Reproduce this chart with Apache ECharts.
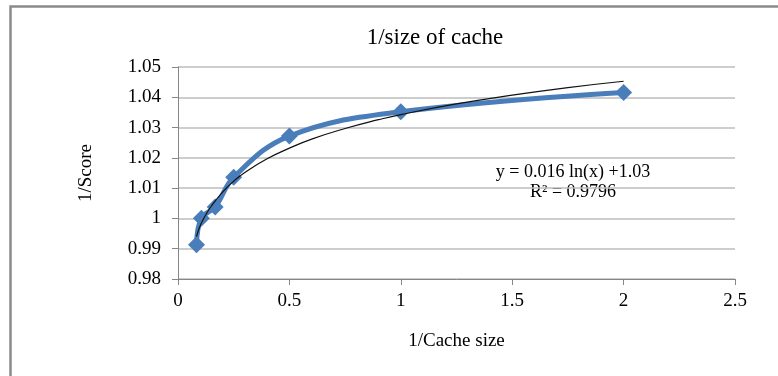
<!DOCTYPE html>
<html>
<head>
<meta charset="utf-8">
<script src="https://cdn.jsdelivr.net/npm/echarts@6/dist/echarts.min.js"></script>
<style>html,body{margin:0;padding:0;background:#fff;}#c{width:778px;height:376px;}</style>
</head>
<body>
<div id="c"></div>
<script>
const titleText = '1/size of cache';
const xName = '1/Cache size';
const yName = '1/Score';
const cacheX = [0.083, 0.105, 0.167, 0.25, 0.5, 1, 2];
const scoreY = [0.9913, 1.0001, 1.0038, 1.0136, 1.0272, 1.0352, 1.0416];
const trendX = [0.083, 0.1, 0.125, 0.15, 0.2, 0.25, 0.3, 0.4, 0.5, 0.6, 0.75, 0.9, 1, 1.25, 1.5, 1.75, 2];
const trendY = [0.9940, 0.9977, 1.0012, 1.0041, 1.0087, 1.0123, 1.0152, 1.0197, 1.0232, 1.0262, 1.0297, 1.0326, 1.0343, 1.0378, 1.0407, 1.0432, 1.0453];
const eqLine1 = 'y = 0.016 ln(x) +1.03';
const eqLine2 = 'R² = 0.9796';

const font = '"Liberation Serif", "DejaVu Serif", serif';
const chart = echarts.init(document.getElementById('c'));
chart.setOption({
  animation: false,
  backgroundColor: '#fff',
  title: {
    text: titleText, left: 430, top: 21, textAlign: 'center',
    textStyle: { fontFamily: font, fontSize: 23, fontWeight: 'normal', color: '#000' }
  },
  grid: { left: 178, right: 43, top: 67, bottom: 97 },
  xAxis: {
    type: 'value', min: 0, max: 2.5, interval: 0.5,
    name: xName, nameLocation: 'middle', nameGap: 53,
    nameTextStyle: { fontFamily: font, fontSize: 19, color: '#000' },
    axisLine: { lineStyle: { color: '#868686', width: 1 } },
    axisTick: { show: true, length: 6, lineStyle: { color: '#868686' } },
    axisLabel: { fontFamily: font, fontSize: 19, color: '#000', margin: 13, formatter: v => String(+v.toFixed(2)) },
    splitLine: { show: false }
  },
  yAxis: {
    type: 'value', min: 0.98, max: 1.05, interval: 0.01,
    name: yName, nameLocation: 'middle', nameGap: 82,
    nameTextStyle: { fontFamily: font, fontSize: 19, color: '#000' },
    axisLine: { show: true, lineStyle: { color: '#868686', width: 1 } },
    axisTick: { show: true, length: 6, lineStyle: { color: '#868686' } },
    axisLabel: { fontFamily: font, fontSize: 19, color: '#000', margin: 17, formatter: v => String(+v.toFixed(2)) },
    splitLine: { show: true, lineStyle: { color: '#bdbdbd', width: 1.5 } }
  },
  series: [
    {
      type: 'line', smooth: 0.4,
      data: cacheX.map((x, i) => [x, scoreY[i]]),
      symbol: 'diamond', symbolSize: 17,
      itemStyle: { color: '#4a7ebb' },
      lineStyle: { color: '#4a7ebb', width: 5 },
      z: 2
    },
    {
      type: 'line', smooth: 0.5,
      data: trendX.map((x, i) => [x, trendY[i]]),
      symbol: 'none',
      lineStyle: { color: '#111', width: 1.2 },
      z: 3
    }
  ],
  graphic: [
    { type: 'rect', left: 8, top: 4, shape: { width: 820, height: 420 }, style: { fill: 'none', stroke: '#8a8a8a', lineWidth: 2.5 }, silent: true },
    { type: 'text', x: 573, y: 172, style: { text: eqLine1, font: '18px ' + font, fill: '#000', textAlign: 'center', textVerticalAlign: 'middle' } },
    { type: 'text', x: 573, y: 192, style: { text: eqLine2, font: '18px ' + font, fill: '#000', textAlign: 'center', textVerticalAlign: 'middle' } }
  ]
});
</script>
</body>
</html>
